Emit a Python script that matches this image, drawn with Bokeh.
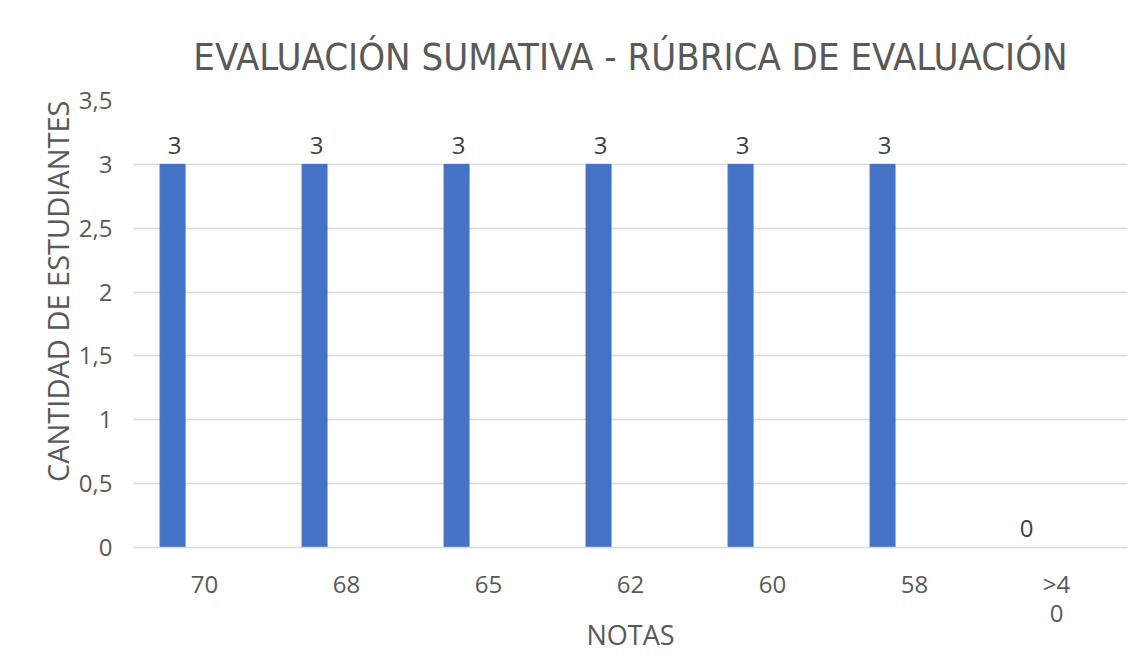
from bokeh.plotting import figure
from bokeh.models import ColumnDataSource, Range1d, FixedTicker, LabelSet, Title
from bokeh.core.properties import value
from bokeh.embed import file_html
from bokeh.resources import INLINE

categories = ["70", "68", "65", "62", "60", "58", ">40"]
students = [3, 3, 3, 3, 3, 3, 0]
y_ticks = [0, 0.5, 1, 1.5, 2, 2.5, 3, 3.5]
y_tick_labels = ["0", "0,5", "1", "1,5", "2", "2,5", "3", "3,5"]
title_text = "EVALUACIÓN SUMATIVA - RÚBRICA DE EVALUACIÓN"
x_title = "NOTAS"
y_title = "CANTIDAD DE ESTUDIANTES"

FONT = "Open Sans"
GRAY = "#595959"

idx = list(range(len(categories)))
centers = [i + 0.5 for i in idx]
src = ColumnDataSource(dict(x=[c - 0.225 for c in centers], val=students,
                            lab=[str(v) for v in students]))

p = figure(width=1139, height=651, x_range=Range1d(0, len(categories)),
           y_range=Range1d(0, 3.5), output_backend="svg", toolbar_location=None,
           min_border_left=133, min_border_right=12, min_border_top=100,
           min_border_bottom=104)
p.outline_line_color = None

p.vbar(x="x", top="val", width=0.176, source=src, color="#4472C4")

labels = LabelSet(x="x", y="val", text="lab", source=src, x_offset=2,
                  text_align="center", text_baseline="middle", y_offset=19,
                  text_font=value(FONT), text_font_size="24px",
                  text_color="#404040")
p.add_layout(labels)

p.yaxis.ticker = FixedTicker(ticks=y_ticks)
p.yaxis.major_label_overrides = {t: l for t, l in zip(y_ticks, y_tick_labels)}
p.yaxis.axis_line_color = None
p.yaxis.major_tick_line_color = None
p.yaxis.minor_tick_line_color = None
p.yaxis.major_label_standoff = 15

p.xaxis.ticker = FixedTicker(ticks=centers)
x_lab = list(categories)
x_lab[-1] = ">4\n0"
p.xaxis.major_label_overrides = {c: l for c, l in zip(centers, x_lab)}
p.xaxis.axis_line_color = "#d9d9d9"
p.xaxis.axis_line_width = 1.5
p.xaxis.major_tick_line_color = None
p.xaxis.minor_tick_line_color = None
p.xaxis.major_label_standoff = 13
p.xaxis.major_label_text_line_height = 0.88

for ax in (p.xaxis, p.yaxis):
    ax.major_label_text_font = FONT
    ax.major_label_text_font_size = "24px"
    ax.major_label_text_color = GRAY

p.xgrid.grid_line_color = None
p.ygrid.grid_line_color = "#d9d9d9"
p.ygrid.grid_line_width = 1.5

p.add_layout(Title(text=x_title, align="center", text_font=FONT,
                   text_font_size="27px", text_font_style="normal",
                   text_color=GRAY, standoff=-42, offset=7), "below")
p.add_layout(Title(text=y_title, align="right", text_font=FONT,
                   text_font_size="29px", text_font_style="normal",
                   text_color=GRAY, standoff=-2, offset=0), "left")
p.add_layout(Title(text=title_text, align="center", text_font="DejaVu Sans Condensed",
                   text_font_size="38px", text_font_style="normal",
                   text_color=GRAY, standoff=43), "above")

open("out.html", "w").write(file_html(p, INLINE))
